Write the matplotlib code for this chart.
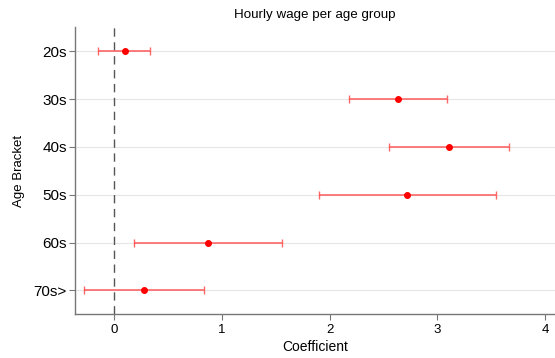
import matplotlib
matplotlib.use("Agg")
import matplotlib.pyplot as plt

# coefficient estimates with 95% CI
groups = ["20s", "30s", "40s", "50s", "60s", "70s>"]
coef = [0.10, 2.635, 3.11, 2.72, 0.875, 0.28]
ci_low = [-0.15, 2.18, 2.555, 1.90, 0.186, -0.278]
ci_high = [0.337, 3.09, 3.66, 3.54, 1.558, 0.835]

plt.rcParams["font.family"] = ["Liberation Sans", "DejaVu Sans"]

fig = plt.figure(figsize=(5.55, 3.58), dpi=100)
ax = fig.add_axes([0.1357, 0.122, 0.8643, 0.8017])

pos = list(range(1, len(groups) + 1))
err = [[c - lo for c, lo in zip(coef, ci_low)],
       [hi - c for c, hi in zip(coef, ci_high)]]

for y in pos:
    ax.axhline(y, color="#e6e6e6", lw=0.8, zorder=0)
ax.axvline(0, color="#555555", lw=1.0, ls=(0, (6, 4)), zorder=1)

ax.errorbar(coef, pos, xerr=err, fmt="none", ecolor="#ff4d4d", elinewidth=1.2,
            capsize=3, capthick=1.0, alpha=0.85, zorder=2)
ax.plot(coef, pos, "o", color="#ff0000", ms=4, zorder=3)

ax.set_xlim(-0.357, 4.09)
ax.set_ylim(6.5, 0.5)
ax.set_yticks(pos)
ax.set_yticklabels(groups, fontsize=11)
ax.set_xticks([0, 1, 2, 3, 4])
ax.tick_params(axis="x", labelsize=9.5, length=4, color="#777777", pad=3)
ax.tick_params(axis="y", length=4, color="#777777", pad=2)

for side in ["top", "right"]:
    ax.spines[side].set_visible(False)
for side in ["left", "bottom"]:
    ax.spines[side].set_color("#777777")
    ax.spines[side].set_linewidth(1.0)

ax.set_xlabel("Coefficient", fontsize=10, labelpad=3)
ax.set_ylabel("Age Bracket", fontsize=9.5, labelpad=6)
ax.set_title("Hourly wage per age group", fontsize=9.6, pad=7)

fig.savefig("out.png", dpi=100)
